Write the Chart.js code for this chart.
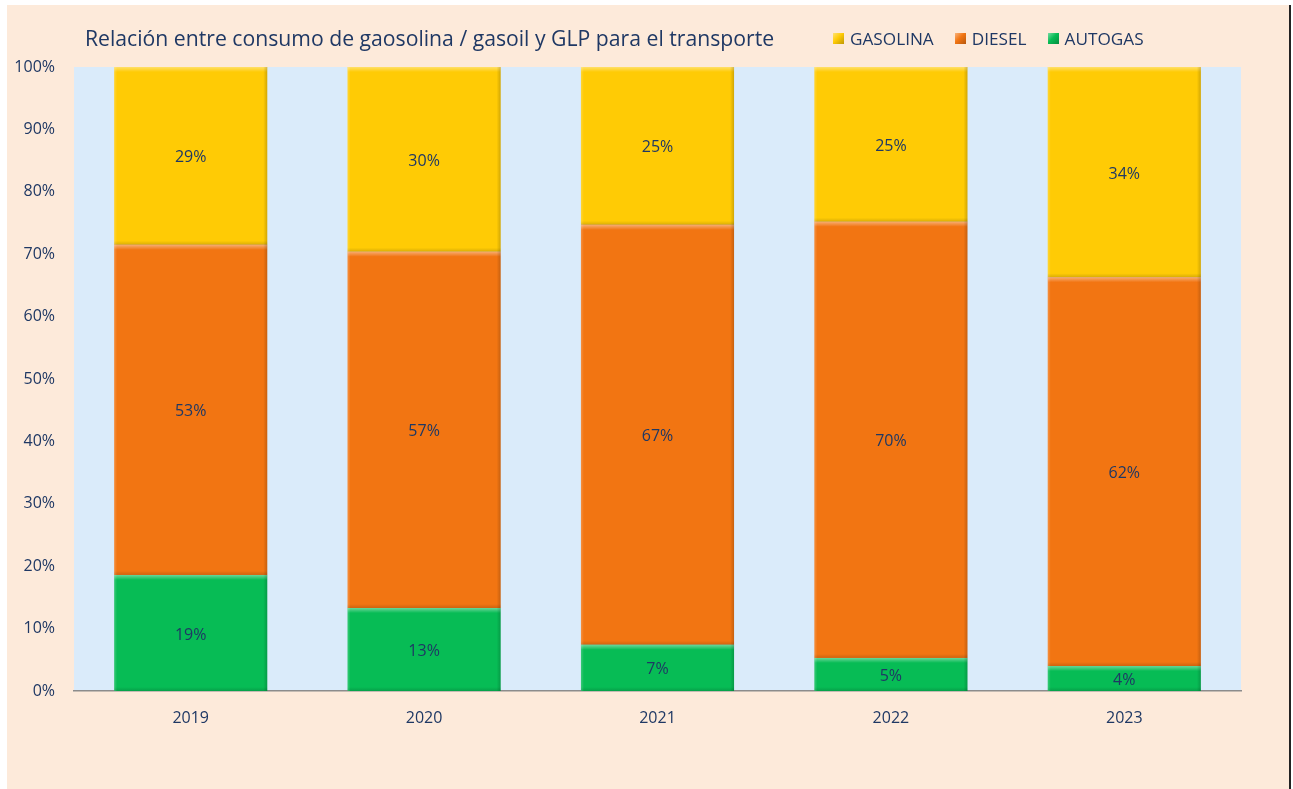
<!DOCTYPE html>
<html>
<head>
<meta charset="utf-8">
<script src="https://cdn.jsdelivr.net/npm/chart.js@4"></script>
<style>
  html, body { margin: 0; padding: 0; background: #ffffff; }
  #frame {
    position: absolute; left: 7px; top: 5px; width: 1282px; height: 784px;
    background: #FDEADA; border-right: 2px solid #222;
  }
  #title {
    position: absolute; left: 78px; top: 18px;
    font-family: "Open Sans", sans-serif; font-size: 21.2px; color: #1F3864;
    white-space: nowrap;
  }
  #legend {
    position: absolute; left: 826px; top: 22px; display: flex;
    font-family: "Open Sans", sans-serif; font-size: 17.2px; color: #1F3864;
  }
  #legend .item { display: flex; align-items: center; margin-right: 21px; }
  #legend .box { width: 11px; height: 11px; margin-right: 6px; }
  canvas { position: absolute; left: 0; top: 0; }
</style>
</head>
<body>
<div id="frame">
  <canvas id="chart" width="1282" height="784"></canvas>
  <div id="title">Relación entre consumo de gaosolina / gasoil y GLP para el transporte</div>
  <div id="legend"></div>
</div>
<script>
var years = ["2019", "2020", "2021", "2022", "2023"];
var autogas = [18.6, 13.3, 7.4, 5.3, 4.0];
var diesel = [52.9, 57.1, 67.3, 69.9, 62.3];
var gasolina = [28.5, 29.6, 25.3, 24.8, 33.7];
var yTicks = [0, 10, 20, 30, 40, 50, 60, 70, 80, 90, 100];

var c_green = "#07BC55";
var c_orange = "#F27512";
var c_yellow = "#FFCB05";
var textColor = "#1F3864";

// legend (gasolina first, like the original)
var legendItems = [["GASOLINA", c_yellow], ["DIESEL", c_orange], ["AUTOGAS", c_green]];
var lg = document.getElementById("legend");
legendItems.forEach(function (it) {
  var d = document.createElement("div");
  d.className = "item";
  d.innerHTML = '<span class="box" style="background:linear-gradient(135deg, rgba(255,255,255,0.45), ' +
    it[1] + ' 45%, rgba(0,0,0,0.25)), ' + it[1] + '"></span>' + it[0];
  lg.appendChild(d);
});

// light blue plot background
var plotBg = {
  id: "plotBg",
  beforeDraw: function (chart) {
    var a = chart.chartArea, ctx = chart.ctx;
    ctx.save();
    ctx.fillStyle = "#DAEBFA";
    ctx.fillRect(a.left, a.top, a.right - a.left, a.bottom - a.top);
    ctx.restore();
  }
};

// soft bevel + value labels
var bevelLabels = {
  id: "bevelLabels",
  afterDatasetsDraw: function (chart) {
    var ctx = chart.ctx;
    chart.data.datasets.forEach(function (ds, i) {
      var meta = chart.getDatasetMeta(i);
      meta.data.forEach(function (bar, j) {
        var x0 = bar.x - bar.width / 2, x1 = bar.x + bar.width / 2;
        var top = Math.min(bar.y, bar.base), bot = Math.max(bar.y, bar.base);
        var h = bot - top;
        ctx.save();
        var g = ctx.createLinearGradient(0, top, 0, top + 5);
        g.addColorStop(0, "rgba(255,255,255,0.4)");
        g.addColorStop(1, "rgba(255,255,255,0)");
        ctx.fillStyle = g;
        ctx.fillRect(x0, top, bar.width, Math.min(5, h));
        g = ctx.createLinearGradient(0, bot - 4, 0, bot);
        g.addColorStop(0, "rgba(0,0,0,0)");
        g.addColorStop(1, "rgba(0,0,0,0.15)");
        ctx.fillStyle = g;
        ctx.fillRect(x0, bot - 4, bar.width, 4);
        g = ctx.createLinearGradient(x1 - 4, 0, x1, 0);
        g.addColorStop(0, "rgba(0,0,0,0)");
        g.addColorStop(1, "rgba(0,0,0,0.18)");
        ctx.fillStyle = g;
        ctx.fillRect(x1 - 4, top, 4, h);
        g = ctx.createLinearGradient(x0, 0, x0 + 3, 0);
        g.addColorStop(0, "rgba(255,255,255,0.2)");
        g.addColorStop(1, "rgba(255,255,255,0)");
        ctx.fillStyle = g;
        ctx.fillRect(x0, top, 3, h);

        ctx.fillStyle = textColor;
        ctx.font = "16px 'Open Sans'";
        ctx.textAlign = "center";
        ctx.textBaseline = "middle";
        ctx.fillText(Math.round(ds.data[j]) + "%", bar.x, (top + bot) / 2 + 2);
        ctx.restore();
      });
    });
  }
};

new Chart(document.getElementById("chart"), {
  type: "bar",
  data: {
    labels: years,
    datasets: [
      { label: "AUTOGAS", data: autogas, backgroundColor: c_green },
      { label: "DIESEL", data: diesel, backgroundColor: c_orange },
      { label: "GASOLINA", data: gasolina, backgroundColor: c_yellow }
    ]
  },
  options: {
    responsive: false,
    animation: false,
    layout: { padding: { left: 0, top: 62, right: 48, bottom: 0 } },
    datasets: { bar: { categoryPercentage: 1, barPercentage: 0.656, borderWidth: 0 } },
    plugins: { legend: { display: false }, title: { display: false }, tooltip: { enabled: false } },
    scales: {
      x: {
        stacked: true,
        grid: { display: false, drawTicks: false },
        border: { display: true, color: "#8C8C8C", width: 1.5 },
        ticks: { color: textColor, font: { family: "Open Sans", size: 16 }, padding: 18 },
        afterFit: function (s) { s.height = 98; }
      },
      y: {
        stacked: true,
        min: 0, max: 100,
        afterBuildTicks: function (s) { s.ticks = yTicks.map(function (v) { return { value: v }; }); },
        grid: { display: false, drawTicks: false },
        border: { display: false },
        ticks: {
          color: textColor, font: { family: "Open Sans", size: 16 }, padding: 19,
          callback: function (v) { return v + "%"; }
        },
        afterFit: function (s) { s.width = 67; }
      }
    }
  },
  plugins: [plotBg, bevelLabels]
});
</script>
</body>
</html>
